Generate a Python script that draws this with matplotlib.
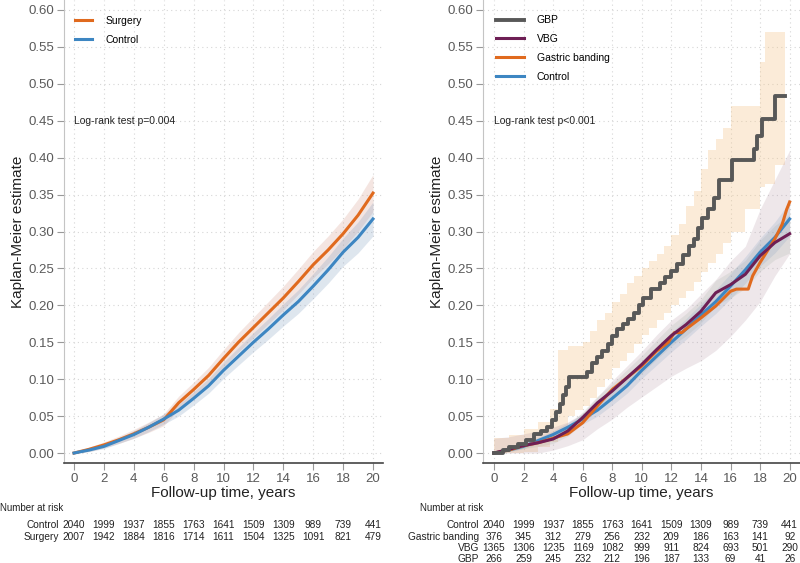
# Kaplan-Meier curves: surgery vs control (left), by procedure (right)
import numpy as np
import matplotlib.pyplot as plt
import matplotlib.transforms as mtransforms

plt.rcParams['font.family'] = ['Liberation Sans', 'DejaVu Sans']

# yearly read-offs
years = np.arange(0, 21)
surgery = [0, 0.005, 0.011, 0.018, 0.026, 0.035, 0.045, 0.068, 0.086, 0.105, 0.128,
           0.15, 0.17, 0.19, 0.21, 0.232, 0.255, 0.275, 0.297, 0.322, 0.352]
control = [0, 0.004, 0.009, 0.017, 0.025, 0.035, 0.046, 0.058, 0.074, 0.091, 0.112,
           0.131, 0.15, 0.168, 0.187, 0.205, 0.226, 0.248, 0.272, 0.292, 0.317]
# half widths of the confidence bands
surgery_hw = [0, 0.003, 0.004, 0.005, 0.006, 0.007, 0.008, 0.009, 0.010, 0.011, 0.012,
              0.013, 0.014, 0.015, 0.016, 0.017, 0.018, 0.019, 0.020, 0.022, 0.025]
control_hw = [0, 0.002, 0.003, 0.004, 0.005, 0.006, 0.007, 0.008, 0.009, 0.010, 0.011,
              0.012, 0.013, 0.014, 0.015, 0.016, 0.017, 0.018, 0.019, 0.021, 0.023]

vbg = [0, 0.005, 0.01, 0.014, 0.019, 0.03, 0.048, 0.068, 0.084, 0.102, 0.12,
       0.14, 0.159, 0.174, 0.192, 0.217, 0.228, 0.242, 0.267, 0.285, 0.297]
vbg_hw = [0, 0.003, 0.004, 0.005, 0.006, 0.007, 0.008, 0.009, 0.010, 0.011, 0.012,
          0.013, 0.014, 0.015, 0.016, 0.017, 0.018, 0.019, 0.021, 0.023, 0.026]

band_t = [0, 1, 2, 3, 4, 5, 6, 7, 8, 9, 10, 11, 11.8, 12.2, 12.7, 13, 14, 15, 16,
          16.4, 17.2, 17.5, 18, 19, 19.5, 19.8, 20]
band_v = [0, 0.004, 0.01, 0.014, 0.02, 0.026, 0.041, 0.064, 0.086, 0.102, 0.118,
          0.138, 0.150, 0.163, 0.163, 0.168, 0.183, 0.199, 0.219, 0.222, 0.222,
          0.24, 0.258, 0.29, 0.31, 0.33, 0.34]
band_lo = [0, 0, 0, 0, 0.004, 0.01, 0.018, 0.033, 0.046, 0.062, 0.076, 0.09, 0.104,
           0.115, 0.125, 0.139, 0.158, 0.18, 0.205, 0.24, 0.27]
band_hi = [0.02, 0.022, 0.026, 0.03, 0.035, 0.042, 0.054, 0.076, 0.098, 0.118, 0.138,
           0.16, 0.18, 0.195, 0.215, 0.235, 0.26, 0.28, 0.33, 0.37, 0.41]

gbp_t = [0, 0.6, 1.0, 1.6, 2.2, 2.7, 3.2, 3.6, 3.9, 4.2, 4.5, 4.7, 4.9, 5.1, 6.3, 6.6,
         7.0, 7.3, 7.7, 8.0, 8.3, 8.7, 9.1, 9.5, 9.8, 10.1, 10.6, 11.2, 11.6, 12.0,
         12.4, 12.8, 13.2, 13.5, 13.8, 14.1, 14.5, 14.9, 15.2, 16.1, 17.6, 17.8, 18.1,
         19.0, 19.7]
gbp_v = [0, 0.004, 0.008, 0.012, 0.018, 0.026, 0.03, 0.035, 0.045, 0.055, 0.066,
         0.078, 0.09, 0.103, 0.11, 0.122, 0.13, 0.138, 0.148, 0.158, 0.168, 0.175,
         0.181, 0.19, 0.2, 0.21, 0.222, 0.23, 0.238, 0.246, 0.256, 0.268, 0.28, 0.29,
         0.305, 0.318, 0.33, 0.345, 0.37, 0.397, 0.412, 0.43, 0.452, 0.483, 0.483]
gbp_band_t = [0, 1, 2, 3, 3.8, 4.3, 5, 5.5, 6, 6.5, 7, 7.5, 8, 8.5, 9, 9.5, 10, 10.5,
              11, 11.5, 12, 12.5, 13, 13.5, 14, 14.5, 15, 15.5, 16, 17, 18, 18.3,
              19, 19.7]
gbp_hi = [0.02, 0.025, 0.032, 0.042, 0.06, 0.14, 0.145, 0.145, 0.15, 0.165, 0.18,
          0.19, 0.205, 0.215, 0.23, 0.24, 0.25, 0.26, 0.27, 0.28, 0.295, 0.31, 0.335,
          0.355, 0.385, 0.41, 0.425, 0.44, 0.47, 0.47, 0.53, 0.57, 0.57, 0.57]
gbp_lo = [0, 0, 0.002, 0.008, 0.015, 0.023, 0.05, 0.058, 0.064, 0.075, 0.09, 0.1,
          0.115, 0.125, 0.135, 0.147, 0.16, 0.17, 0.18, 0.19, 0.2, 0.21, 0.22, 0.232,
          0.245, 0.258, 0.27, 0.285, 0.3, 0.33, 0.36, 0.365, 0.39, 0.39]

# number at risk
risk_years = np.arange(0, 21, 2)
risk_control = [2040, 1999, 1937, 1855, 1763, 1641, 1509, 1309, 989, 739, 441]
risk_surgery = [2007, 1942, 1884, 1816, 1714, 1611, 1504, 1325, 1091, 821, 479]
risk_band = [376, 345, 312, 279, 256, 232, 209, 186, 163, 141, 92]
risk_vbg = [1365, 1306, 1235, 1169, 1082, 999, 911, 824, 693, 501, 290]
risk_gbp = [266, 259, 245, 232, 212, 196, 187, 133, 69, 41, 26]

ORANGE = '#E06A1E'
BLUE = '#3D86C2'
GRAY = '#585858'
PURPLE = '#6E1F55'


def style(ax, xlim, pval):
    ax.set_xlim(*xlim)
    ax.set_ylim(-0.0135, 0.6135)
    ax.set_xticks(risk_years)
    ax.set_yticks(np.arange(0, 0.61, 0.05))
    ax.yaxis.set_major_formatter('{x:.2f}')
    ax.grid(True, linestyle=(0, (1, 3)), color='#d6d6d6', linewidth=0.8)
    ax.set_axisbelow(True)
    for s in ['top', 'right']:
        ax.spines[s].set_visible(False)
    ax.spines['left'].set_color('#c4c4c4')
    ax.spines['bottom'].set_color('#444444')
    ax.spines['bottom'].set_linewidth(1.2)
    ax.tick_params(color='#999999', labelcolor='#5a5a5a', labelsize=9.5,
                   length=5, width=0.8, pad=2)
    ax.set_xlabel('Follow-up time, years', fontsize=11, color='#222222')
    ax.set_ylabel('Kaplan-Meier estimate', fontsize=11, color='#222222')
    ax.xaxis.set_label_coords(0.5, -0.05)
    ax.yaxis.set_label_coords(-0.122, 0.5)
    ax.text(0, 0.45, 'Log-rank test p' + pval, fontsize=7.5,
            color='#222222', va='center', ha='left')


def risk_table(ax, rows, title_x):
    tr = mtransforms.blended_transform_factory(ax.transData, fig.transFigure)
    fig.text(title_x, 1 - 508 / 563, 'Number at risk', fontsize=7,
             color='#222222', va='center', ha='left')
    for i, (name, vals) in enumerate(rows):
        y = 1 - (525.5 + i * 11.2) / 563
        ax.text(-1.0, y, name, transform=tr, fontsize=7.3, ha='right',
                va='center', color='#222222')
        for x, n in zip(risk_years, vals):
            ax.text(x, y, str(n), transform=tr, fontsize=7.3, ha='center',
                    va='center', color='#222222')


fig = plt.figure(figsize=(8, 5.63), dpi=100)
ax1 = fig.add_axes([0.08, 0.1776, 0.39875, 0.8224])
ax2 = fig.add_axes([0.60375, 0.1776, 0.39625, 0.8224])

# left panel
s = np.array(surgery)
c = np.array(control)
ax1.fill_between(years, s - surgery_hw, s + np.array(surgery_hw),
                 color='#D69A88', alpha=0.25, lw=0)
ax1.fill_between(years, c - control_hw, c + np.array(control_hw),
                 color='#7F9CBF', alpha=0.25, lw=0)
ax1.plot(years, surgery, color=ORANGE, lw=2.2, label='Surgery')
ax1.plot(years, control, color=BLUE, lw=2.2, label='Control')
style(ax1, (-0.67, 20.67), '=0.004')
ax1.legend(loc='upper left', bbox_to_anchor=(0.035, 0.966), frameon=False,
           fontsize=7.5, handlelength=1.65, handletextpad=1.25,
           labelspacing=0.85, borderpad=0, borderaxespad=0)

# right panel
v = np.array(vbg)
ax2.fill_between(gbp_band_t, gbp_lo, gbp_hi, step='post', color='#F5C890',
                 alpha=0.35, lw=0)
ax2.fill_between(years, band_lo, band_hi, color='#B293A3', alpha=0.22, lw=0)
ax2.fill_between(years, v - vbg_hw, v + np.array(vbg_hw), color='#9AA89A',
                 alpha=0.18, lw=0)
ax2.fill_between(years, c - control_hw, c + np.array(control_hw),
                 color='#7F9CBF', alpha=0.2, lw=0)
l_c, = ax2.plot(years, control, color=BLUE, lw=2.2)
l_b, = ax2.plot(band_t, band_v, color=ORANGE, lw=2.2)
l_v, = ax2.plot(years, vbg, color=PURPLE, lw=2.2)
l_g, = ax2.plot(gbp_t, gbp_v, color=GRAY, lw=2.8, drawstyle='steps-post')
style(ax2, (-0.74, 20.7), '<0.001')
ax2.legend([l_g, l_v, l_b, l_c], ['GBP', 'VBG', 'Gastric banding', 'Control'],
           loc='upper left', bbox_to_anchor=(0.04, 0.967), frameon=False,
           fontsize=7.5, handlelength=2.7, handletextpad=1.25,
           labelspacing=0.85, borderpad=0, borderaxespad=0)

risk_table(ax1, [('Control', risk_control), ('Surgery', risk_surgery)], 0.0)
risk_table(ax2, [('Control', risk_control), ('Gastric banding', risk_band),
                 ('VBG', risk_vbg), ('GBP', risk_gbp)], 420 / 800)

fig.savefig('out.png', dpi=100)
